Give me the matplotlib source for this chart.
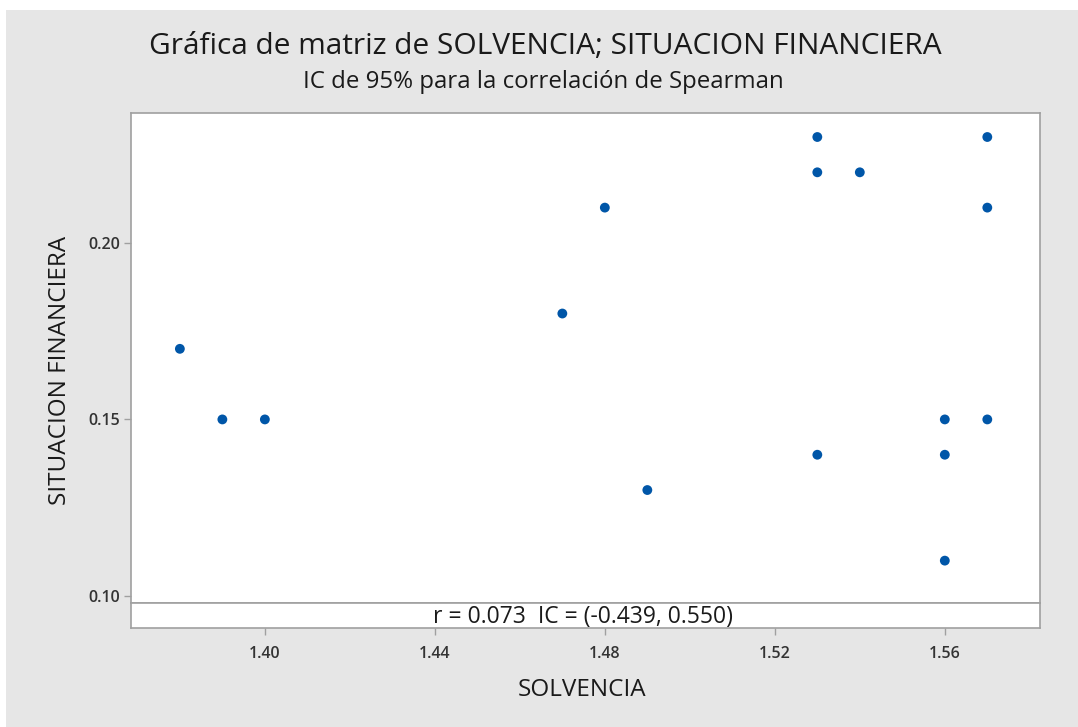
import matplotlib
matplotlib.use("Agg")
import matplotlib.pyplot as plt
from matplotlib.patches import Rectangle

solvencia = [1.38, 1.39, 1.40, 1.47, 1.48, 1.49, 1.53, 1.53, 1.53, 1.54, 1.56, 1.56, 1.56, 1.57, 1.57, 1.57]
situacion = [0.17, 0.15, 0.15, 0.18, 0.21, 0.13, 0.23, 0.22, 0.14, 0.22, 0.15, 0.14, 0.11, 0.23, 0.21, 0.15]
x_ticks = [1.40, 1.44, 1.48, 1.52, 1.56]
y_ticks = [0.10, 0.15, 0.20]
title = "Gráfica de matriz de SOLVENCIA; SITUACION FINANCIERA"
subtitle = "IC de 95% para la correlación de Spearman"
annot = "r = 0.073  IC = (-0.439, 0.550)"

plt.rcParams['font.family'] = ['Open Sans', 'DejaVu Sans']
W, H = 1078, 727
fig = plt.figure(figsize=(W / 100, H / 100), dpi=100, facecolor='white')
fig.patches.append(Rectangle((6 / W, 0), 1 - 6 / W, 1 - 10 / H, transform=fig.transFigure,
                             facecolor='#e6e6e6', edgecolor='none', zorder=-10))

L, R, T, S, B = 131, 1040, 113, 603, 628
ax = fig.add_axes([L / W, (H - S) / H, (R - L) / W, (S - T) / H])
ax2 = fig.add_axes([L / W, (H - B) / H, (R - L) / W, (B - S) / H], sharex=ax)

border = '#a0a0a0'
for a in (ax, ax2):
    a.set_facecolor('white')
    for sp in a.spines.values():
        sp.set_color(border)
        sp.set_linewidth(1.2)

ax.scatter(solvencia, situacion, s=50, color='#0056a8', edgecolors='none', zorder=3)
ax.set_xlim(1.3685, 1.5824)
ax.set_ylim(0.098, 0.2368)
ax.set_yticks(y_ticks)
ax.set_yticklabels([f"{v:.2f}" for v in y_ticks])
ax.tick_params(axis='x', bottom=False, labelbottom=False)
ax.tick_params(axis='y', direction='out', length=5, width=1, color=border,
               labelsize=11.5, labelcolor='#333333', pad=3)
for lab in ax.get_yticklabels():
    lab.set_fontweight('semibold')

ax2.set_ylim(0, 1)
ax2.set_yticks([])
ax2.set_xticks(x_ticks)
ax2.set_xticklabels([f"{v:.2f}" for v in x_ticks])
ax2.tick_params(axis='x', direction='out', length=5, width=1, color=border,
                labelsize=11.5, labelcolor='#333333', pad=8)
for lab in ax2.get_xticklabels():
    lab.set_fontweight('semibold')
ax2.text(583 / W, 1 - 617 / H, annot, transform=fig.transFigure, ha='center', va='center',
         fontsize=16.5, color='#1a1a1a')

fig.text(545 / W, 1 - 46 / H, title, ha='center', va='center', fontsize=21.5, color='#1a1a1a')
fig.text(543 / W, 1 - 82 / H, subtitle, ha='center', va='center', fontsize=17.3,
         color='#1a1a1a')
fig.text(582 / W, 1 - 690 / H, "SOLVENCIA", ha='center', va='center', fontsize=17.5, color='#1a1a1a')
fig.text(60 / W, 1 - 370 / H, "SITUACION FINANCIERA", ha='center', va='center', fontsize=17.5,
         color='#1a1a1a', rotation=90)

fig.savefig("out.png", dpi=100, facecolor='white')
